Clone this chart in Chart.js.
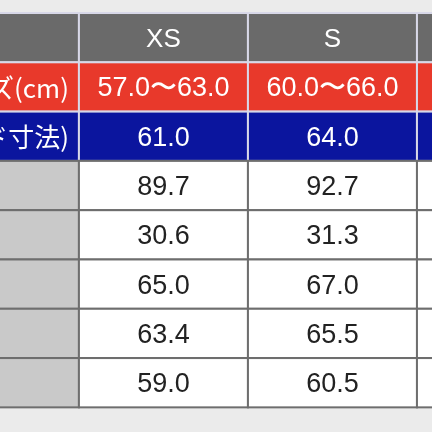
<!DOCTYPE html>
<html>
<head>
<meta charset="utf-8">
<script src="https://cdn.jsdelivr.net/npm/chart.js@4"></script>
<style>
  html, body { margin: 0; padding: 0; background: #ebebeb; }
  #wrap { width: 432px; height: 432px; }
</style>
</head>
<body>
<div id="wrap"><canvas id="c"></canvas></div>
<script>
// table content
const columns = ['', 'XS', 'S', 'M'];
const rowLabels = ['', '適応サイズ(cm)', 'ヌード寸法)', '', '', '', '', ''];
const xsValues = ['XS', '57.0〜63.0', '61.0', '89.7', '30.6', '65.0', '63.4', '59.0'];
const sValues = ['S', '60.0〜66.0', '64.0', '92.7', '31.3', '67.0', '65.5', '60.5'];
const mValues = ['', '', '', '', '', '', '', ''];
const rowKinds = ['head', 'red', 'blue', 'white', 'white', 'white', 'white', 'white'];

const fills = { head: '#6a6a6a', red: '#e8392b', blue: '#0b159e', white: '#ffffff' };
const labelFills = { head: '#6a6a6a', red: '#e8392b', blue: '#0b159e', white: '#c9c9c9' };

const tablePlugin = {
  id: 'table',
  afterDraw(chart) {
    const ctx = chart.ctx;
    const x = chart.scales.x, y = chart.scales.y;
    const cols = [rowLabels, xsValues, sValues, mValues];
    ctx.save();
    rowKinds.forEach((kind, r) => {
      const top = y.getPixelForValue(r), bot = y.getPixelForValue(r + 1);
      cols.forEach((vals, c) => {
        const left = x.getPixelForValue(c), right = x.getPixelForValue(c + 1);
        ctx.fillStyle = c === 0 ? labelFills[kind] : fills[kind];
        ctx.fillRect(left, top, right - left, bot - top);
        ctx.strokeStyle = kind === 'white' ? '#6e6e6e' : '#d8d8e8';
        ctx.lineWidth = 2;
        ctx.strokeRect(left, top, right - left, bot - top);
        const txt = vals[r];
        if (!txt) return;
        ctx.fillStyle = kind === 'white' ? '#222' : '#fff';
        ctx.font = (kind === 'head' ? '26px' : '27px') + ' "Liberation Sans", Arial, sans-serif';
        ctx.textBaseline = 'middle';
        if (c === 0) {
          ctx.textAlign = 'right';
          ctx.font = '26px "Noto Sans CJK JP", sans-serif';
          ctx.fillText(txt, right - 10, (top + bot) / 2 + 1);
        } else {
          ctx.textAlign = 'center';
          ctx.fillText(txt, (left + right) / 2, (top + bot) / 2 + 2);
        }
      });
    });
    ctx.restore();
  }
};

new Chart(document.getElementById('c'), {
  type: 'scatter',
  data: { datasets: [{ data: [] }] },
  options: {
    responsive: true,
    maintainAspectRatio: false,
    animation: false,
    layout: { padding: 0 },
    plugins: { legend: { display: false }, tooltip: { enabled: false } },
    scales: {
      x: { type: 'linear', min: 0.533, max: 3.089, display: false },
      y: { type: 'linear', min: -0.264, max: 8.5, reverse: true, display: false }
    }
  },
  plugins: [tablePlugin]
});
</script>
</body>
</html>
